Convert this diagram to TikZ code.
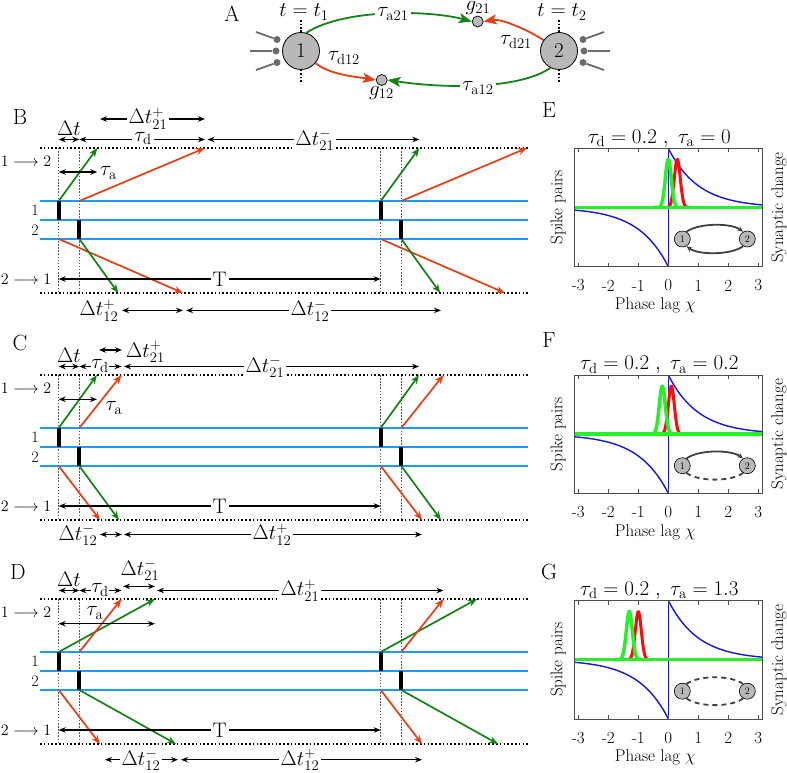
\documentclass[tikz,border=0pt]{standalone}
\usepackage{fix-cm}
\usepackage{fontspec}
\usetikzlibrary{arrows.meta}
\definecolor{sblue}{RGB}{25,155,255}
\definecolor{agreen}{RGB}{20,130,20}
\definecolor{ared}{RGB}{232,62,20}
\definecolor{pgreen}{RGB}{40,240,40}
\definecolor{pred}{RGB}{255,10,10}
\definecolor{pblue}{RGB}{20,20,235}
\definecolor{ngray}{gray}{0.72}
\definecolor{sgray}{gray}{0.42}
\definecolor{igray}{gray}{0.25}
\tikzset{
 bigf/.style={font=\fontsize{22}{26}\selectfont, inner sep=1pt},
 labf/.style={font=\fontsize{21}{25}\selectfont, inner sep=1pt},
 onl/.style={labf, fill=white, inner sep=2pt},
 smf/.style={font=\fontsize{17}{20}\selectfont, inner sep=1pt},
 dirf/.style={font=\fontsize{16}{19}\selectfont, inner sep=1pt},
 dotline/.style={line width=1.8pt, dash pattern=on 1.6pt off 2.2pt},
 vdot/.style={line width=1.4pt, black!65, dash pattern=on 1.5pt off 1.6pt},
 bluel/.style={sblue, line width=2pt},
 spikebar/.style={line width=4pt, line cap=butt},
 garr/.style={agreen, line width=1.7pt, -{Stealth[length=9pt,width=7pt]}},
 rarr/.style={ared, line width=1.7pt, -{Stealth[length=9pt,width=7pt]}},
 dimarr/.style={line width=1.5pt, {Stealth[length=7pt,width=5.5pt]}-{Stealth[length=7pt,width=5.5pt]}},
 neur/.style={circle, draw, line width=0.8pt, fill=ngray, minimum size=37pt, inner sep=0pt, font=\fontsize{21}{25}\selectfont},
 gsyn/.style={circle, draw, line width=0.7pt, fill=ngray, minimum size=11pt, inner sep=0pt},
 sdot/.style={circle, fill=sgray, minimum size=7pt, inner sep=0pt},
 sline/.style={sgray, line width=1.8pt},
 adot/.style={line width=1.6pt, dash pattern=on 1.6pt off 1.8pt},
 Agarr/.style={agreen, line width=1.8pt, -{Stealth[length=13pt,width=10pt,inset=3pt]}},
 Ararr/.style={ared, line width=1.8pt, -{Stealth[length=13pt,width=10pt,inset=3pt]}},
 inode/.style={circle, draw, line width=0.6pt, fill=ngray, minimum size=16pt, inner sep=0pt, font=\fontsize{10}{11}\selectfont},
 iarc/.style={igray, line width=1.8pt},
 iarrow/.style={iarc, -{Stealth[length=6pt,width=5pt]}},
 idash/.style={iarc, dash pattern=on 5pt off 4pt},
 pframe/.style={line width=0.8pt, black!70},
}
\newcommand{\DimA}[4]{\coordinate (#1l) at (#2,#4); \coordinate (#1r) at (#3,#4); \draw[dimarr] (#1l) -- (#1r);}
\newcommand{\TPanel}[6]{%
\begin{scope}[shift={(0,#2)}]
 \coordinate (#1tl) at (40,0); \coordinate (#1tr) at (528,0);
 \coordinate (#1bl) at (40,145); \coordinate (#1br) at (528,145);
 \foreach \xx/\nm in {58.7/a,79.3/b,380.7/c,401.3/d}{%
   \coordinate (#1v\nm t) at (\xx,0); \coordinate (#1v\nm b) at (\xx,145);
   \draw[vdot] (#1v\nm t) -- (#1v\nm b);}
 \draw[dotline] (#1tl) -- (#1tr);
 \draw[dotline] (#1bl) -- (#1br);
 \foreach \yy/\nm in {53/a,72/b,91/c}{%
   \coordinate (#1h\nm l) at (40,\yy); \coordinate (#1h\nm r) at (528,\yy);
   \draw[bluel] (#1h\nm l) -- (#1h\nm r);}
 \foreach \pp/\nm in {0/a,322/b}{%
   \coordinate (#1sA\nm) at ({58.7+\pp},53); \coordinate (#1sB\nm) at ({58.7+\pp},72);
   \coordinate (#1sC\nm) at ({79.3+\pp},72); \coordinate (#1sD\nm) at ({79.3+\pp},91);
   \coordinate (#1sE\nm) at ({79.3+\pp},53); \coordinate (#1sF\nm) at ({58.7+\pp},91);
   \draw[spikebar] (#1sA\nm) -- (#1sB\nm);
   \draw[spikebar] (#1sC\nm) -- (#1sD\nm);
   \coordinate (#1eG\nm) at ({#3+\pp},0); \coordinate (#1eR\nm) at ({#4+\pp},0);
   \coordinate (#1eRR\nm) at ({#5+\pp},145); \coordinate (#1eGG\nm) at ({#6+\pp},145);
   \draw[garr] (#1sA\nm) -- (#1eG\nm);
   \draw[rarr] (#1sE\nm) -- (#1eR\nm);
   \draw[rarr] (#1sF\nm) -- (#1eRR\nm);
   \draw[garr] (#1sD\nm) -- (#1eGG\nm);}
 \node[dirf] (#1l12) at (26,13.4) {$1\longrightarrow2$};
 \node[dirf] (#1l21) at (26,131) {$2\longrightarrow1$};
 \node[dirf] (#1n1) at (35,62.5) {1};
 \node[dirf] (#1n2) at (35,82) {2};
 \DimA{#1T}{58.7}{380.7}{131}
 \node[onl] (#1Tl) at (219.7,131) {T};
 \DimA{#1dt}{58.7}{79.3}{-8.5}
 \node[labf] (#1dtl) at (69,-20) {$\Delta t$};
\end{scope}}
\newcommand{\PPanel}[9]{%
\begin{scope}[shift={(668.3,#2)}]
 \pgfmathsetmacro\glo{#3-0.5}\pgfmathsetmacro\ghi{#3+0.5}%
 \pgfmathsetmacro\rlo{#4-0.5}\pgfmathsetmacro\rhi{#4+0.5}%
 \coordinate (#1bl) at (-94.2,59.2); \coordinate (#1tr) at (94.2,-59.2);
 \coordinate (#1zt) at (0,-59.2); \coordinate (#1zb) at (0,59.2);
 \coordinate (#1ml) at (-94.2,0); \coordinate (#1mr) at (94.2,0);
 \draw[pblue, line width=1.4pt] (#1zt) -- (#1zb);
 \draw[pblue, line width=1.4pt] plot[domain=0:3.14, samples=60, smooth] ({30*\x},{-59.2*exp(-\x)});
 \draw[pblue, line width=1.4pt] plot[domain=-3.14:0, samples=60, smooth] ({30*\x},{59.2*exp(\x)});
 \draw[pred, line width=3pt] (#1ml) -- (#1mr);
 \draw[pred, line width=3pt] plot[domain=\rlo:\rhi, samples=50, smooth] ({30*\x},{-48*exp(-((\x-(#4))*(\x-(#4)))/0.02)});
 \draw[pgreen, line width=3.5pt] (#1ml) -- (#1mr);
 \draw[pgreen, line width=3.5pt] plot[domain=\glo:\ghi, samples=50, smooth] ({30*\x},{-48*exp(-((\x-(#3))*(\x-(#3)))/0.02)});
 \draw[pframe] (#1bl) rectangle (#1tr);
 \foreach \i in {-3,...,3}{%
   \coordinate (#1ta\i) at ({30*\i},-59.2); \coordinate (#1tb\i) at ({30*\i},-55.2);
   \coordinate (#1tc\i) at ({30*\i},59.2); \coordinate (#1td\i) at ({30*\i},55.2);
   \draw[pframe] (#1ta\i) -- (#1tb\i);
   \draw[pframe] (#1tc\i) -- (#1td\i);
   \node[smf] (#1tl\i) at ({30*\i},78) {\i};}
 \node[bigf] (#1let) at (-119.3,#9) {#5};
 \node[labf] (#1tit) at (-9,-69) {#6};
 \node[smf] (#1xl) at (-13,98) {Phase lag $\chi$};
 \node[smf, rotate=90] (#1yl) at (-110.3,0) {Spike pairs};
 \node[smf, rotate=90] (#1yr) at (110.7,0) {Synaptic change};
 \node[inode] (#1i1) at (14,31.5) {1};
 \node[inode] (#1i2) at (79,31.5) {2};
 \draw[#7] (#1i1.60) .. controls +(12,-9) and +(-12,-9) .. (#1i2.120);
 \draw[#8] (#1i2.240) .. controls +(-12,9) and +(12,9) .. (#1i1.300);
\end{scope}}
\begin{document}
\begin{tikzpicture}[x=1pt,y=-1pt]
\useasboundingbox (0,0) rectangle (787,773);
% ---------- Panel A
\node[bigf] (labA) at (232,14) {A};
\node[neur] (n1) at (301,51) {1};
\node[neur] (n2) at (559,51) {2};
\node[gsyn] (g21) at (477.7,21.5) {};
\node[gsyn] (g12) at (381.7,80) {};
\node[labf, anchor=south] (g21l) at (478,16) {$g_{21}$};
\node[labf] (g12l) at (381.5,93) {$g_{12}$};
\node[labf] (t1l) at (304,12) {$t=t_1$};
\node[labf] (t2l) at (562,12) {$t=t_2$};
\coordinate (n1u) at (301,20); \coordinate (n1d) at (301,83);
\coordinate (n2u) at (559,20); \coordinate (n2d) at (559,83);
\draw[adot] (n1.north) -- (n1u); \draw[adot] (n1.south) -- (n1d);
\draw[adot] (n2.north) -- (n2u); \draw[adot] (n2.south) -- (n2d);
\node[sdot] (d1a) at (277,39.5) {}; \node[sdot] (d1b) at (276,51) {}; \node[sdot] (d1c) at (277,62.5) {};
\coordinate (e1a) at (256,32); \coordinate (e1b) at (250,51); \coordinate (e1c) at (256,70);
\draw[sline] (d1a) -- (e1a); \draw[sline] (d1b) -- (e1b); \draw[sline] (d1c) -- (e1c);
\node[sdot] (d2a) at (583,39.5) {}; \node[sdot] (d2b) at (584,51) {}; \node[sdot] (d2c) at (583,62.5) {};
\coordinate (e2a) at (604,32); \coordinate (e2b) at (610,51); \coordinate (e2c) at (604,70);
\draw[sline] (d2a) -- (e2a); \draw[sline] (d2b) -- (e2b); \draw[sline] (d2c) -- (e2c);
\draw[Agarr] (n1.74) .. controls +(39,-25) and +(-41,-11) .. (g21.west);
\draw[Ararr] (n2.145) .. controls +(-15,-10) and +(18,-3) .. (g21.east);
\draw[Ararr] (n1.-40) .. controls +(15,12) and +(-18,-3) .. (g12.west);
\draw[Agarr] (n2.243) .. controls +(-30,21) and +(60,9) .. (g12.east);
\node[onl] (ta21) at (393,14) {$\tau_{\mathrm{a}21}$};
\node[labf] (td21) at (516,42) {$\tau_{\mathrm{d}21}$};
\node[labf] (td12) at (344,58) {$\tau_{\mathrm{d}12}$};
\node[onl] (ta12) at (478,88) {$\tau_{\mathrm{a}12}$};
% ---------- Panel B
\node[bigf] (labB) at (20,117) {B};
\TPanel{B}{148}{97.3}{205}{183}{118.3}
\begin{scope}[shift={(0,148)}]
\DimA{Btd}{79.3}{205}{-8.5} \node[onl] (Btdl) at (143,-9.5) {$\tau_\mathrm{d}$};
\DimA{Bp21}{100}{205}{-29} \node[onl] (Bp21l) at (148,-29.5) {$\Delta t_{21}^{+}$};
\DimA{Bm21}{207.5}{419.3}{-8.5} \node[onl] (Bm21l) at (315,-8.5) {$\Delta t_{21}^{-}$};
\DimA{Bta}{58.7}{97.3}{24} \node[labf, anchor=west] (Btal) at (99,25) {$\tau_\mathrm{a}$};
\node[labf] (Bp12l) at (99,162.4) {$\Delta t_{12}^{+}$};
\DimA{Bp12}{122}{183}{162.4}
\DimA{Bm12}{186}{441}{162.4} \node[onl] (Bm12l) at (310,162.4) {$\Delta t_{12}^{-}$};
\end{scope}
% ---------- Panel C
\node[bigf] (labC) at (20,343) {C};
\TPanel{C}{375}{97}{121.5}{100}{119}
\begin{scope}[shift={(0,375)}]
\DimA{Ctd}{79.3}{121.5}{-8.5} \node[onl, inner sep=0.5pt] (Ctdl) at (100,-9) {$\tau_\mathrm{d}$};
\DimA{Cp21}{99}{122}{-25} \node[labf, anchor=west] (Cp21l) at (125,-23) {$\Delta t_{21}^{+}$};
\DimA{Cm21}{124}{419}{-8.5} \node[onl] (Cm21l) at (265,-8.5) {$\Delta t_{21}^{-}$};
\DimA{Cta}{58.7}{97}{24.3} \node[labf] (Ctal) at (114,33) {$\tau_\mathrm{a}$};
\node[labf] (Cm12l) at (78,159.5) {$\Delta t_{12}^{-}$};
\DimA{Cm12}{100}{122}{159.5}
\DimA{Cp12}{124}{422}{159.5} \node[onl] (Cp12l) at (272,159.5) {$\Delta t_{12}^{+}$};
\end{scope}
% ---------- Panel D
\node[bigf] (labD) at (18,571.7) {D};
\TPanel{D}{599}{155}{121.5}{100}{176}
\begin{scope}[shift={(0,599)}]
\DimA{Dtd}{79.3}{121.5}{-8.5} \node[onl, inner sep=0.5pt] (Dtdl) at (100,-9) {$\tau_\mathrm{d}$};
\DimA{Dm21}{123}{155}{-12.6} \node[labf] (Dm21l) at (140,-29.3) {$\Delta t_{21}^{-}$};
\DimA{Dp21}{157}{443.5}{-8.5} \node[onl] (Dp21l) at (300,-8.5) {$\Delta t_{21}^{+}$};
\DimA{Dta}{58.7}{155}{24.7} \node[labf] (Dtal) at (95,14) {$\tau_\mathrm{a}$};
\DimA{Dm12}{105}{178}{160.7} \node[onl] (Dm12l) at (141,160.7) {$\Delta t_{12}^{-}$};
\DimA{Dp12}{181}{422}{160.7} \node[onl] (Dp12l) at (300,160.7) {$\Delta t_{12}^{+}$};
\end{scope}
% ---------- Panels E F G
\PPanel{E}{207.5}{0}{0.3}{E}{$\tau_\mathrm{d}=0.2\;,\;\tau_\mathrm{a}=0$}{iarrow}{iarrow}{-97.5}
\PPanel{F}{434.2}{-0.2}{0.1}{F}{$\tau_\mathrm{d}=0.2\;,\;\tau_\mathrm{a}=0.2$}{iarrow}{idash}{-94.2}
\PPanel{G}{659.7}{-1.3}{-1.0}{G}{$\tau_\mathrm{d}=0.2\;,\;\tau_\mathrm{a}=1.3$}{idash}{idash}{-88}
\end{tikzpicture}
\end{document}
